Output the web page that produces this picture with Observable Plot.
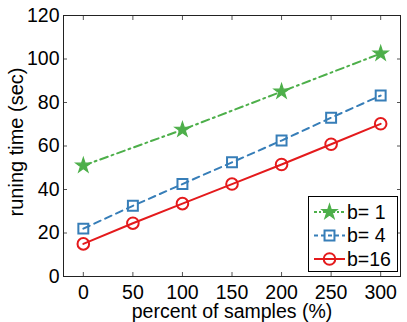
<!DOCTYPE html>
<html>
<head>
<meta charset="utf-8">
<script src="https://cdn.jsdelivr.net/npm/d3@7"></script>
<script src="https://cdn.jsdelivr.net/npm/@observablehq/plot@0.6"></script>
<style>
  html, body { margin: 0; padding: 0; background: #fff; }
  #wrap { position: relative; width: 407px; height: 322px; }
  #legend { position: absolute; }
</style>
</head>
<body>
<div id="wrap"></div>
<script>
// ---- data ----
const xTicks = [0, 50, 100, 150, 200, 250, 300];
const yTicks = [0, 20, 40, 60, 80, 100, 120];

const b1X = [0, 100, 200, 300];
const b1Y = [51, 67.5, 85, 102.5];

const b4X = [0, 50, 100, 150, 200, 250, 300];
const b4Y = [22, 32.5, 42.5, 52.5, 62.5, 73, 83.2];

const b16X = [0, 50, 100, 150, 200, 250, 300];
const b16Y = [15, 24.5, 33.5, 42.5, 51.5, 60.8, 70.2];

const seriesNames = ["b= 1", "b= 4", "b=16"];
const colors = ["#4daf4a", "#377eb8", "#e41a1c"];
const symbols = ["star", "square", "circle"];
const dashes = ["8,4,2,4", "7,5", null];

const xLabel = "percent of samples (%)";
const yLabel = "runing time (sec)";

// ---- build ----
const toRows = (xs, ys) => xs.map((x, i) => ({x, y: ys[i]}));
const series = [toRows(b1X, b1Y), toRows(b4X, b4Y), toRows(b16X, b16Y)];
const rSizes = [4.7, 5.6, 5.8];
const sw = [1.2, 2, 2];

const font = "'Liberation Sans', Arial, Helvetica, sans-serif";

const lineMarks = series.map((d, i) => Plot.line(d, {
  x: "x", y: "y", stroke: colors[i], strokeWidth: 2,
  strokeDasharray: dashes[i] || undefined
}));
const dotMarks = series.map((d, i) => Plot.dot(d, {
  x: "x", y: "y", symbol: symbols[i], r: rSizes[i],
  fill: i === 0 ? colors[i] : "none", stroke: colors[i], strokeWidth: sw[i]
}));

const chart = Plot.plot({
  width: 407, height: 322,
  marginLeft: 63, marginRight: 7, marginTop: 15, marginBottom: 46,
  style: {fontFamily: font, fontSize: "19.5px", background: "#fff", color: "#000", overflow: "visible"},
  x: {domain: [-20, 320]},
  y: {domain: [0, 120]},
  marks: [
    Plot.axisX({anchor: "bottom", ticks: xTicks, tickSize: -4, tickPadding: 13, label: null, stroke: "#555"}),
    Plot.axisX({anchor: "top", ticks: xTicks, tickSize: -4, tickFormat: () => "", label: null, stroke: "#555"}),
    Plot.axisY({anchor: "left", ticks: yTicks, tickSize: -4, tickPadding: 8, label: null, stroke: "#555"}),
    Plot.axisY({anchor: "right", ticks: yTicks, tickSize: -4, tickFormat: () => "", label: null, stroke: "#555"}),
    Plot.text([xLabel], {frameAnchor: "bottom", text: d => d, textAnchor: "middle",
      lineAnchor: "middle", dy: 35, fontSize: "19.5px", fill: "#000"}),
    Plot.text([yLabel], {frameAnchor: "left", text: d => d, textAnchor: "middle",
      lineAnchor: "top", rotate: -90, dx: -55, dy: -4, fontSize: "20px", fill: "#000"}),
    ...lineMarks,
    ...dotMarks,
    Plot.frame({stroke: "#222", strokeWidth: 1})
  ]
});
document.getElementById("wrap").appendChild(chart);

// ---- legend (inside plot area, lower right) ----
const lg = d3.select("#wrap").append("svg").attr("id", "legend")
  .attr("width", 90).attr("height", 76)
  .style("left", "308px").style("top", "196px");
lg.append("rect").attr("x", 0.5).attr("y", 0.5).attr("width", 89).attr("height", 75)
  .attr("fill", "#fff").attr("stroke", "#000").attr("stroke-width", 1);
const symMap = {star: d3.symbolStar, square: d3.symbolSquare, circle: d3.symbolCircle};
seriesNames.forEach((name, i) => {
  const cy = 16 + i * 23.5;
  const g = lg.append("g");
  g.append("line").attr("x1", 6).attr("x2", 37).attr("y1", cy).attr("y2", cy)
    .attr("stroke", colors[i]).attr("stroke-width", 2)
    .attr("stroke-dasharray", dashes[i] ? (i === 0 ? "3,2,2,2" : "4,3") : null);
  g.append("path").attr("d", d3.symbol(symMap[symbols[i]], Math.PI * rSizes[i] * rSizes[i])())
    .attr("transform", `translate(21.5,${cy})`)
    .attr("fill", i === 0 ? colors[i] : "none").attr("stroke", colors[i]).attr("stroke-width", sw[i]);
  g.append("text").attr("x", 39).attr("y", cy).attr("dy", "0.35em")
    .attr("font-family", font).attr("font-size", "19.5px").attr("fill", "#000").text(name);
});
</script>
</body>
</html>
